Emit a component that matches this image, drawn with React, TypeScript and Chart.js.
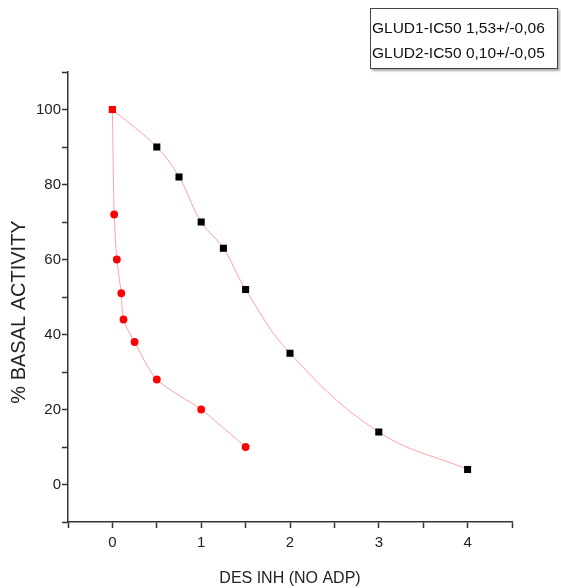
import React, { useEffect, useRef } from "react";
import { Chart, registerables } from "chart.js";

Chart.register(...registerables);

const glud1X = [0, 0.5, 0.75, 1, 1.25, 1.5, 2, 3, 4];
const glud1Y = [100, 90, 82, 70, 63, 52, 35, 14, 4];
const glud2X = [0, 0.02, 0.05, 0.1, 0.125, 0.25, 0.5, 1, 1.5];
const glud2Y = [100, 72, 60, 51, 44, 38, 28, 20, 10];
const legendLines = ["GLUD1-IC50 1,53+/-0,06", "GLUD2-IC50 0,10+/-0,05"];
const xTitle = "DES INH (NO ADP)";
const yTitle = "% BASAL ACTIVITY";

const FONT = "'Liberation Sans', Arial, sans-serif";
const LINE = "rgba(255,90,90,0.55)";

const yTitlePlugin = {
  id: "yTitlePlugin",
  afterDraw(chart: any) {
    const ctx = chart.ctx;
    ctx.save();
    ctx.translate(19, 312);
    ctx.rotate(-Math.PI / 2);
    ctx.font = `20px ${FONT}`;
    ctx.fillStyle = "#222";
    ctx.textAlign = "center";
    ctx.textBaseline = "middle";
    ctx.fillText(yTitle, 0, 0);
    ctx.restore();
  },
};

export default function App() {
  const ref = useRef<HTMLCanvasElement | null>(null);
  useEffect(() => {
    if (!ref.current) return;
    const chart = new Chart(ref.current, {
      type: "line",
      data: {
        datasets: [
          {
            label: "GLUD1",
            data: glud1X.map((x, i) => ({ x, y: glud1Y[i] })),
            borderColor: LINE,
            borderWidth: 1,
            tension: 0.4,
            pointStyle: "rect",
            pointRadius: 5,
            pointBorderWidth: 0,
            pointBackgroundColor: glud1X.map((_, i) => (i === 0 ? "#ff0000" : "#000000")),
          },
          {
            label: "GLUD2",
            data: glud2X.map((x, i) => ({ x, y: glud2Y[i] })),
            borderColor: LINE,
            borderWidth: 1,
            tension: 0.25,
            pointStyle: glud2X.map((_, i) => (i === 0 ? "rect" : "circle")),
            pointRadius: glud2X.map((_, i) => (i === 0 ? 5 : 3.9)),
            pointBorderWidth: 0,
            pointBackgroundColor: "#ff0000",
          },
        ],
      },
      options: {
        animation: false,
        responsive: false,
        layout: { padding: { left: 0, top: 72, right: 49, bottom: 0 } },
        plugins: { legend: { display: false }, tooltip: { enabled: false } },
        scales: {
          x: {
            type: "linear",
            min: -0.5,
            max: 4.5,
            afterFit: (s: any) => {
              s.height = 66;
            },
            border: { display: true, color: "#333", width: 1.5 },
            grid: { drawOnChartArea: false, tickLength: 6, tickColor: "#333", tickWidth: 1.5 },
            ticks: {
              stepSize: 0.5,
              autoSkip: false,
              maxRotation: 0,
              padding: 6,
              color: "#222",
              font: { family: FONT, size: 15 },
              callback: (v: any) => (Math.abs(v - Math.round(v)) < 1e-6 ? String(Math.round(v)) : ""),
            },
            title: {
              display: true,
              text: xTitle,
              color: "#222",
              font: { family: FONT, size: 16 },
              padding: { top: 0, bottom: 0 },
            },
          },
          y: {
            type: "linear",
            min: -10,
            max: 110,
            afterFit: (s: any) => {
              s.width = 68;
            },
            border: { display: true, color: "#333", width: 1.5 },
            grid: { drawOnChartArea: false, tickLength: 6, tickColor: "#333", tickWidth: 1.5 },
            ticks: {
              stepSize: 10,
              autoSkip: false,
              padding: 1,
              color: "#222",
              font: { family: FONT, size: 15 },
              callback: (v: any) => (Math.round(v) % 20 === 0 ? String(Math.round(v)) : ""),
            },
          },
        },
      },
      plugins: [yTitlePlugin],
    } as any);
    return () => chart.destroy();
  }, []);

  return (
    <div style={{ position: "absolute", left: 0, top: 0, width: 561, height: 588, background: "#fff" }}>
      <canvas ref={ref} width={561} height={588} style={{ display: "block" }} />
      <div
        style={{
          position: "absolute",
          left: 370,
          top: 8,
          width: 188,
          height: 61,
          border: "1px solid #444",
          boxShadow: "2px 2px 2px #aaa",
          background: "#fff",
          fontFamily: FONT,
          fontSize: 15.5,
          lineHeight: "25px",
          color: "#111",
          paddingTop: 6,
          paddingLeft: 1,
          boxSizing: "border-box",
          whiteSpace: "nowrap",
        }}
      >
        {legendLines.map((t) => (
          <div key={t}>{t}</div>
        ))}
      </div>
    </div>
  );
}
